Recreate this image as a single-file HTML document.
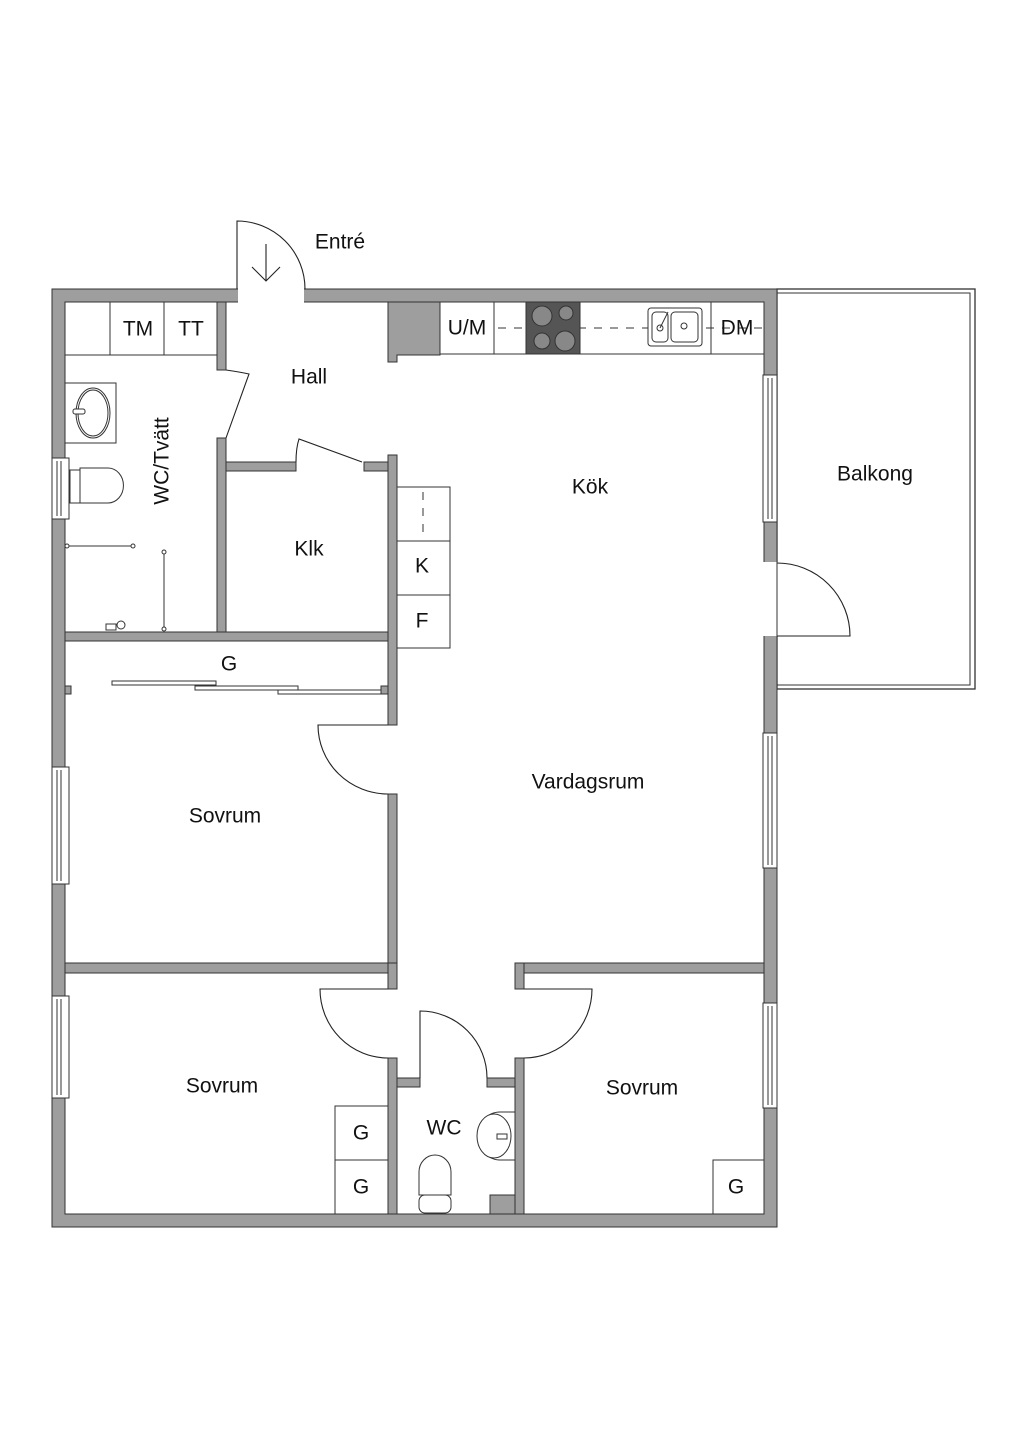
<!DOCTYPE html>
<html><head><meta charset="utf-8"><style>
html,body{margin:0;padding:0;background:#fff;}
svg{display:block;}
text{font-family:"Liberation Sans",sans-serif;font-size:21px;fill:#111;text-anchor:middle;dominant-baseline:central;}
</style></head><body>
<svg width="1024" height="1448" viewBox="0 0 1024 1448" xmlns="http://www.w3.org/2000/svg">
<g stroke="#333" stroke-width="1">
<rect x="777" y="289" width="198" height="400" fill="#fff" stroke-width="1.3"/>
<rect x="777" y="293" width="193" height="392" fill="none"/>
<path d="M52 289H777V1227H52Z M65 302V1214H764V302Z" fill="#9e9e9e" fill-rule="evenodd"/>
</g>
<rect x="238" y="287" width="66" height="17" fill="#fff"/>
<g fill="#9e9e9e" stroke="#333" stroke-width="1">
<path d="M388 302H440V355H397V362H388Z"/>
<rect x="217" y="302" width="9" height="68"/>
<rect x="217" y="438" width="9" height="194"/>
<rect x="65" y="632" width="332" height="9"/>
<rect x="226" y="462" width="70" height="9"/>
<rect x="364" y="462" width="33" height="9"/>
<rect x="388" y="455" width="9" height="270"/>
<rect x="388" y="794" width="9" height="179"/>
<rect x="65" y="963" width="332" height="10"/>
<rect x="388" y="963" width="9" height="26"/>
<rect x="388" y="1058" width="9" height="156"/>
<rect x="397" y="1078" width="23" height="9"/>
<rect x="487" y="1078" width="28" height="9"/>
<rect x="515" y="963" width="249" height="10"/>
<rect x="515" y="963" width="9" height="26"/>
<rect x="515" y="1058" width="9" height="156"/>
<rect x="490" y="1195" width="25" height="19"/>
<rect x="65" y="686" width="6" height="8"/>
<rect x="381" y="686" width="7" height="8"/>
</g>
<rect x="763" y="562" width="15" height="74" fill="#fff"/>
<line x1="777" y1="562" x2="777" y2="636" stroke="#333"/>
<g fill="#fff" stroke="#333" stroke-width="1">
<rect x="763" y="375" width="14" height="147"/><line x1="768" y1="378" x2="768" y2="519"/><line x1="772" y1="378" x2="772" y2="519"/>
<rect x="763" y="733" width="14" height="135"/><line x1="768" y1="736" x2="768" y2="865"/><line x1="772" y1="736" x2="772" y2="865"/>
<rect x="763" y="1003" width="14" height="105"/><line x1="768" y1="1006" x2="768" y2="1105"/><line x1="772" y1="1006" x2="772" y2="1105"/>
<rect x="52" y="458" width="17" height="61"/><line x1="57" y1="461" x2="57" y2="516"/><line x1="61" y1="461" x2="61" y2="516"/>
<rect x="52" y="767" width="17" height="117"/><line x1="57" y1="770" x2="57" y2="881"/><line x1="61" y1="770" x2="61" y2="881"/>
<rect x="52" y="996" width="17" height="102"/><line x1="57" y1="999" x2="57" y2="1095"/><line x1="61" y1="999" x2="61" y2="1095"/>
</g>
<g fill="none" stroke="#222" stroke-width="1.1">
<path d="M237 289V221A68 68 0 0 1 305 289"/>
<path d="M266 244V281M252 267L266 281L280 267"/>
<path d="M226 370Q240 372 249 374L226 438"/>
<path d="M296 462Q296 448 299 439L362 462"/>
<path d="M777 636H850A73 73 0 0 0 777 563"/>
<path d="M388 725H318A70 69 0 0 0 388 794"/>
<path d="M388 989H320A68 69 0 0 0 388 1058"/>
<path d="M420 1078V1011A67 67 0 0 1 487 1078"/>
<path d="M524 989H592A68 69 0 0 1 524 1058"/>
</g>
<g fill="#fff" stroke="#333" stroke-width="1">
<rect x="65" y="302" width="152" height="53"/>
<line x1="110" y1="302" x2="110" y2="355"/><line x1="164" y1="302" x2="164" y2="355"/>
<rect x="65" y="383" width="51" height="60"/>
<ellipse cx="93" cy="413" rx="17" ry="25"/><ellipse cx="93" cy="413" rx="15" ry="23"/>
<rect x="73" y="409" width="12" height="5" rx="2"/>
<rect x="70" y="470" width="10" height="33"/>
<path d="M80 468H108A15 17 0 0 1 108 503H80Z"/>
<line x1="67" y1="546" x2="133" y2="546"/><circle cx="67" cy="546" r="2"/><circle cx="133" cy="546" r="2"/>
<line x1="164" y1="552" x2="164" y2="629"/><circle cx="164" cy="552" r="2"/><circle cx="164" cy="629" r="2"/>
<rect x="106" y="624" width="10" height="6"/><circle cx="121" cy="625" r="4"/>
<rect x="440" y="302" width="324" height="52"/>
<line x1="494" y1="302" x2="494" y2="354"/><line x1="711" y1="302" x2="711" y2="354"/>
</g>
<g stroke="#333" stroke-width="1" stroke-dasharray="8,8">
<line x1="498" y1="328" x2="762" y2="328"/>
<line x1="423" y1="492" x2="423" y2="535"/>
</g>
<g fill="#fff" stroke="#333" stroke-width="1">
<rect x="526" y="302" width="54" height="52" fill="#555"/>
<circle cx="542" cy="316" r="10" fill="#888"/><circle cx="566" cy="313" r="7" fill="#888"/>
<circle cx="542" cy="341" r="8" fill="#888"/><circle cx="565" cy="341" r="10" fill="#888"/>
<rect x="648" y="308" width="54" height="38" rx="3"/><rect x="652" y="312" width="16" height="30" rx="4"/><rect x="671" y="312" width="27" height="30" rx="4"/>
<circle cx="660" cy="328" r="3"/><circle cx="684" cy="326" r="3"/><line x1="660" y1="328" x2="668" y2="312"/>
<rect x="397" y="487" width="53" height="161" fill="none"/>
<line x1="397" y1="541" x2="450" y2="541"/><line x1="397" y1="595" x2="450" y2="595"/>
<rect x="112" y="681" width="104" height="4"/><rect x="195" y="686" width="103" height="4"/><rect x="278" y="690" width="103" height="4"/>
<rect x="335" y="1106" width="53" height="54"/><rect x="335" y="1160" width="53" height="54"/>
<rect x="713" y="1160" width="51" height="54"/>
<path d="M515 1112H500A22 24 0 0 0 500 1160H515Z"/><ellipse cx="494" cy="1136" rx="17" ry="22"/>
<rect x="497" y="1134" width="10" height="5"/>
<rect x="419" y="1195" width="32" height="18" rx="6"/>
<path d="M419 1195V1172A16 17 0 0 1 451 1172V1195Z"/>
</g>
<text x="340" y="242">Entré</text>
<text x="138" y="329">TM</text>
<text x="191" y="329">TT</text>
<text x="467" y="328">U/M</text>
<text x="737" y="328">DM</text>
<text x="309" y="377">Hall</text>
<text x="590" y="487">Kök</text>
<text x="875" y="474">Balkong</text>
<text x="309" y="549">Klk</text>
<text x="422" y="566">K</text>
<text x="422" y="621">F</text>
<text x="229" y="664">G</text>
<text x="588" y="782">Vardagsrum</text>
<text x="225" y="816">Sovrum</text>
<text x="162" y="461" transform="rotate(-90 162 461)">WC/Tvätt</text>
<text x="222" y="1086">Sovrum</text>
<text x="444" y="1128">WC</text>
<text x="642" y="1088">Sovrum</text>
<text x="361" y="1133">G</text>
<text x="361" y="1187">G</text>
<text x="736" y="1187">G</text>
</svg>
</body></html>
